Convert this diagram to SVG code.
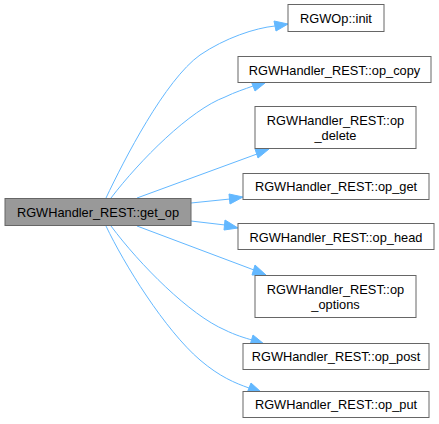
<svg xmlns="http://www.w3.org/2000/svg" width="439" height="424" viewBox="0 0 439 424">
<defs>
<style>
.n rect{fill:#ffffff;stroke:#666666;stroke-width:1}
.m rect{fill:#999999;stroke:#666666;stroke-width:1}
text{font-family:"Liberation Sans",Arial,sans-serif;font-size:12.8px;fill:#000000;text-anchor:middle}
.e path{fill:none;stroke:#63b8ff;stroke-width:1}
.e polygon{fill:#63b8ff;stroke:#63b8ff;stroke-width:1}
</style>
</defs>
<rect x="0" y="0" width="439" height="424" fill="#ffffff"/>
<g id="edges" class="e">
<path d="M106,198 C124,160 165,80 200,55 C225,38 255,28 275,26"/>
<polygon points="274,21 288,24 276,31"/>
<path d="M111,198 C140,160 190,110 225,97 C235,92 245,89 253,86"/>
<polygon points="251,81 265,83 255,91"/>
<path d="M137,198 L257,154"/>
<polygon points="255,149 269,149 258,158"/>
<path d="M191,203 L230,199"/>
<polygon points="229,194 243,197 230,204"/>
<path d="M191,221 L225,225"/>
<polygon points="225,220 238,228 224,230"/>
<path d="M137,226 L254,270"/>
<polygon points="255,265 266,275 252,275"/>
<path d="M111,226 C140,265 190,315 225,330 C235,335 245,338 252,340"/>
<polygon points="253,335 264,344 250,345"/>
<path d="M106,226 C124,264 165,330 200,360 C220,377 235,383 249,388"/>
<polygon points="251,383 261,392 247,393"/>
</g>
<g id="node_get_op" class="m"><rect x="5" y="198.5" width="186" height="27"/><text x="98" y="217">RGWHandler_REST::get_op</text></g>
<g id="node_init" class="n"><rect x="288" y="4.5" width="96" height="27"/><text x="336" y="23">RGWOp::init</text></g>
<g id="node_op_copy" class="n"><rect x="238" y="56.5" width="193" height="26"/><text x="334.5" y="74.5">RGWHandler_REST::op_copy</text></g>
<g id="node_op_delete" class="n"><rect x="255" y="106.5" width="161" height="42"/><text x="335.5" y="125">RGWHandler_REST::op</text><text x="335.5" y="140">_delete</text></g>
<g id="node_op_get" class="n"><rect x="243" y="173.5" width="186" height="26"/><text x="336" y="191">RGWHandler_REST::op_get</text></g>
<g id="node_op_head" class="n"><rect x="238" y="223.5" width="196" height="26"/><text x="336" y="241.5">RGWHandler_REST::op_head</text></g>
<g id="node_op_options" class="n"><rect x="255" y="275.5" width="161" height="42"/><text x="335.5" y="294">RGWHandler_REST::op</text><text x="335.5" y="309">_options</text></g>
<g id="node_op_post" class="n"><rect x="243" y="343.5" width="186" height="26"/><text x="336" y="361">RGWHandler_REST::op_post</text></g>
<g id="node_op_put" class="n"><rect x="243" y="391.5" width="186" height="26"/><text x="336" y="409">RGWHandler_REST::op_put</text></g>
</svg>
